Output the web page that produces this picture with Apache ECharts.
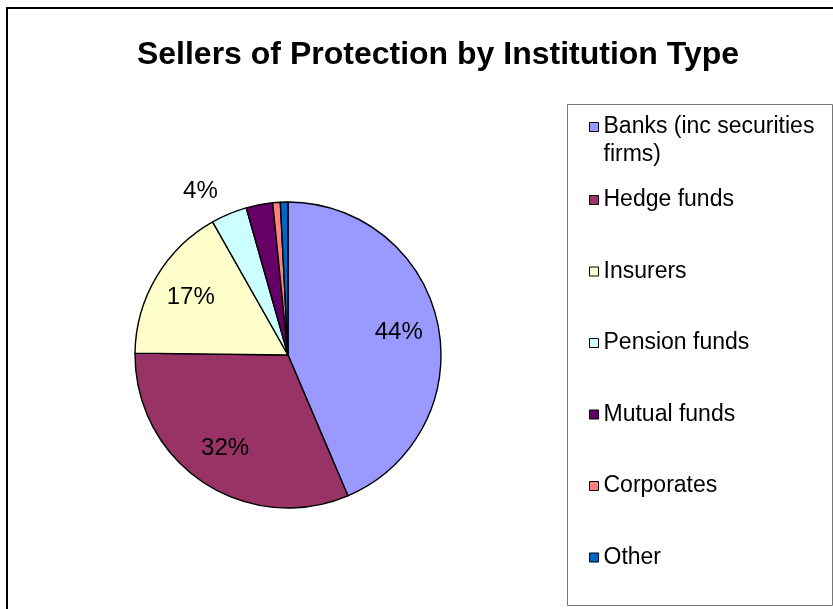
<!DOCTYPE html>
<html>
<head>
<meta charset="utf-8">
<script src="https://cdn.jsdelivr.net/npm/echarts@6/dist/echarts.min.js"></script>
<style>
html,body{margin:0;padding:0;background:#fff;}
#chart{width:833px;height:609px;}
</style>
</head>
<body>
<div id="chart"></div>
<script>
var categories = ['Banks (inc securities firms)', 'Hedge funds', 'Insurers', 'Pension funds', 'Mutual funds', 'Corporates', 'Other'];
var values = [43.6, 31.6, 16.6, 3.8, 2.8, 0.8, 0.8];
var colors = ['#9999FF', '#993366', '#FFFFCC', '#CCFFFF', '#660066', '#FF8080', '#0066CC'];
var legendLabels = ['Banks (inc securities\nfirms)', 'Hedge funds', 'Insurers', 'Pension funds', 'Mutual funds', 'Corporates', 'Other'];
var outsideLabels = ['Pension funds'];
var titleText = 'Sellers of Protection by Institution Type';

var FONT = '"Liberation Sans", Arial, sans-serif';
var chart = echarts.init(document.getElementById('chart'), null, {renderer: 'canvas'});

var mainData = categories.map(function (c, i) {
  return {name: c, value: values[i], itemStyle: {color: colors[i]}};
});
var labelData = categories.map(function (c, i) {
  var d = {name: c, value: values[i]};
  if (outsideLabels.indexOf(c) >= 0) {
    d.label = {position: 'outside', distanceToLabelLine: 0};
    d.labelLine = {show: false, length: 24, length2: 2};
  }
  return d;
});

function legendFormatter(name) {
  return legendLabels[categories.indexOf(name)];
}
var legendCommon = {
  orient: 'vertical',
  left: 589,
  padding: 0,
  itemWidth: 9,
  itemHeight: 9,
  icon: 'rect',
  itemStyle: {borderColor: '#000', borderWidth: 1}
};

var option = {
  animation: false,
  backgroundColor: '#fff',
  title: {
    text: titleText,
    left: 433,
    top: 34,
    textAlign: 'center',
    textStyle: {fontFamily: FONT, fontSize: 32, fontWeight: 'bold', color: '#000'}
  },
  legend: [
    Object.assign({}, legendCommon, {
      top: 85,
      itemGap: 0,
      data: categories.slice(0, 1),
      // leading empty line keeps the marker level with the first text line
      formatter: function (name) { return '\n' + legendFormatter(name); },
      textStyle: {fontFamily: FONT, fontSize: 23, color: '#000', lineHeight: 28}
    }),
    Object.assign({}, legendCommon, {
      top: 186,
      itemGap: 43.5,
      data: categories.slice(1),
      formatter: legendFormatter,
      textStyle: {fontFamily: FONT, fontSize: 23, color: '#000', lineHeight: 28}
    })
  ],
  graphic: [
    {type: 'rect', silent: true, shape: {x: 7, y: 8, width: 900, height: 700},
     style: {fill: 'none', stroke: '#000', lineWidth: 2}},
    {type: 'rect', silent: true, shape: {x: 567.5, y: 104.5, width: 265, height: 501},
     style: {fill: '#fff', stroke: '#777', lineWidth: 1}, z: -1}
  ],
  series: [
    {
      type: 'pie',
      center: [288, 355],
      radius: [0, 153],
      startAngle: 90,
      clockwise: true,
      silent: true,
      label: {show: false},
      labelLine: {show: false},
      itemStyle: {borderColor: '#000', borderWidth: 1.4},
      data: mainData
    },
    {
      type: 'pie',
      center: [288, 355],
      radius: [67, 153],
      startAngle: 90,
      clockwise: true,
      silent: true,
      z: 3,
      itemStyle: {color: 'rgba(0,0,0,0)', borderWidth: 0},
      emphasis: {disabled: true},
      labelLine: {show: false},
      label: {
        show: true,
        position: 'inside',
        fontFamily: FONT,
        fontSize: 24,
        color: '#000',
        formatter: function (p) {
          return p.percent >= 3.5 ? Math.round(p.percent) + '%' : '';
        }
      },
      data: labelData
    }
  ]
};
chart.setOption(option);
</script>
</body>
</html>
